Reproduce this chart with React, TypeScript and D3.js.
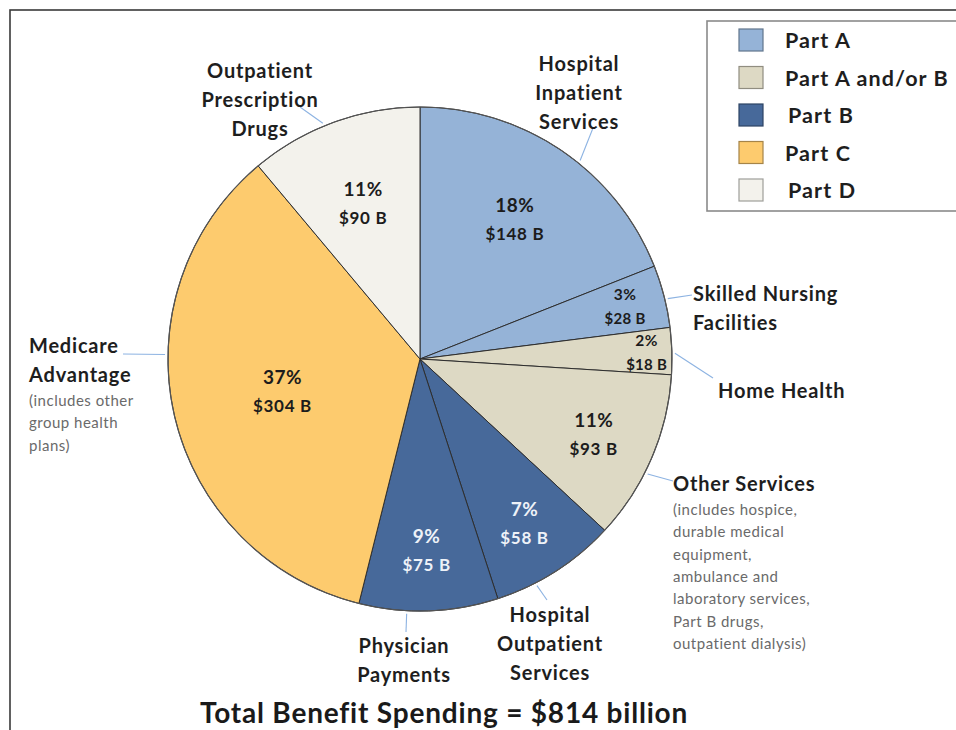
import React from "react";
import * as d3 from "d3";

// ---- data ----
const categories = [
  "Hospital Inpatient Services",
  "Skilled Nursing Facilities",
  "Home Health",
  "Other Services",
  "Hospital Outpatient Services",
  "Physician Payments",
  "Medicare Advantage",
  "Outpatient Prescription Drugs",
];
const categoryLines = [
  ["Hospital", "Inpatient", "Services"],
  ["Skilled Nursing", "Facilities"],
  ["Home Health"],
  ["Other Services"],
  ["Hospital", "Outpatient", "Services"],
  ["Physician", "Payments"],
  ["Medicare", "Advantage"],
  ["Outpatient", "Prescription", "Drugs"],
];
const categoryNotes = [
  [],
  [],
  [],
  [
    "(includes hospice,",
    "durable medical",
    "equipment,",
    "ambulance and",
    "laboratory services,",
    "Part B drugs,",
    "outpatient dialysis)",
  ],
  [],
  [],
  ["(includes other", "group health", "plans)"],
  [],
];
const categoryParts = [
  "Part A",
  "Part A",
  "Part A and/or B",
  "Part A and/or B",
  "Part B",
  "Part B",
  "Part C",
  "Part D",
];
const spendingBillions = [148, 28, 18, 93, 58, 75, 304, 90];
const percentLabels = ["18%", "3%", "2%", "11%", "7%", "9%", "37%", "11%"];
// share of the circle each slice occupies as drawn in the reference (percent)
const drawnShares = [19.0, 4.0, 3.0, 10.9, 8.1, 8.9, 35.0, 11.1];
const legendParts = ["Part A", "Part A and/or B", "Part B", "Part C", "Part D"];
const totalLabel = "Total Benefit Spending = $814 billion";

// ---- styles / layout ----
const partColors = ["#95b3d7", "#ddd9c4", "#47699a", "#fdcb6e", "#f3f2ec"];
const W = 956;
const H = 730;
const CX = 420;
const CY = 359;
const R = 252;
const FONT = "Lato, 'Open Sans', 'DejaVu Sans', sans-serif";

const labelRadius = [0.67, 0.84, 0.9, 0.75, 0.77, 0.76, 0.56, 0.66];
const smallLabel = [false, true, true, false, false, false, false, false];

type OuterLayout = {
  x: number;
  y: number;
  anchor: "start" | "middle" | "end";
  leaderDeg: number;
  end: [number, number];
  noteY?: number;
};
const outerLayout: OuterLayout[] = [
  { x: 579, y: 63, anchor: "middle", leaderDeg: 38.9, end: [593, 128] },
  { x: 693, y: 293, anchor: "start", leaderDeg: 76.3, end: [692, 295] },
  { x: 718, y: 390, anchor: "start", leaderDeg: 88.7, end: [713, 378] },
  { x: 673, y: 483, anchor: "start", leaderDeg: 116.8, end: [673, 481], noteY: 509 },
  { x: 550, y: 614, anchor: "middle", leaderDeg: 152.7, end: [547, 600] },
  { x: 404, y: 645, anchor: "middle", leaderDeg: 183, end: [406, 632] },
  { x: 29, y: 345, anchor: "start", leaderDeg: 271, end: [123, 354], noteY: 400 },
  { x: 260, y: 70, anchor: "middle", leaderDeg: 337.6, end: [300, 107] },
];

type Row = {
  category: string;
  part: string;
  value: number;
  share: number;
  pct: string;
  idx: number;
};

export default function App() {
  const rows: Row[] = categories.map((c, i) => ({
    category: c,
    part: categoryParts[i],
    value: spendingBillions[i],
    share: drawnShares[i],
    pct: percentLabels[i],
    idx: i,
  }));

  const color = d3.scaleOrdinal<string, string>().domain(legendParts).range(partColors);

  const pie = d3
    .pie<Row>()
    .sort(null)
    .value((d) => d.share)
    .startAngle(0)
    .endAngle(2 * Math.PI);
  const arcs = pie(rows);
  const arcGen = d3.arc<d3.PieArcDatum<Row>>().innerRadius(0).outerRadius(R);

  const polar = (angle: number, rad: number): [number, number] => [
    CX + rad * Math.sin(angle),
    CY - rad * Math.cos(angle),
  ];

  const legendY = d3.scalePoint<string>().domain(legendParts).range([40, 190]);

  return (
    <svg
      width={W}
      height={H}
      viewBox={`0 0 ${W} ${H}`}
      style={{ position: "absolute", left: 0, top: 0, background: "#fff" }}
      fontFamily={FONT}
    >
      {/* frame */}
      <rect x={10} y={10} width={1000} height={900} fill="#fff" stroke="#3a3a3a" strokeWidth={1.6} />

      {/* pie slices */}
      <g transform={`translate(${CX},${CY})`}>
        {arcs.map((a) => (
          <path
            key={a.data.category}
            d={arcGen(a) || ""}
            fill={color(a.data.part)}
            stroke="#2e2e2e"
            strokeWidth={1}
            strokeLinejoin="round"
          />
        ))}
      </g>
      <circle cx={CX} cy={CY} r={R} fill="none" stroke="#555" strokeWidth={1.2} />

      {/* slice value labels */}
      {arcs.map((a) => {
        const i = a.data.idx;
        const mid = (a.startAngle + a.endAngle) / 2;
        const [x, y] = polar(mid, R * labelRadius[i]);
        const small = smallLabel[i];
        const dark = a.data.part === "Part B";
        const fill = dark ? "#eef2f8" : "#1c1c1c";
        const gap = small ? 12 : 14.5;
        return (
          <g key={"lab" + i} fill={fill} fontWeight={700} textAnchor="middle" dominantBaseline="central">
            <text x={x} y={y - gap} fontSize={small ? 15.5 : 19} letterSpacing={0.5}>
              {a.data.pct}
            </text>
            <text x={x} y={y + gap} fontSize={small ? 15 : 17} letterSpacing={small ? 0.3 : 0.7}>
              {`$${a.data.value} B`}
            </text>
          </g>
        );
      })}

      {/* leader lines */}
      {arcs.map((a) => {
        const i = a.data.idx;
        const L = outerLayout[i];
        const [sx, sy] = polar((L.leaderDeg * Math.PI) / 180, R + 3);
        return (
          <line
            key={"ld" + i}
            x1={sx}
            y1={sy}
            x2={L.end[0]}
            y2={L.end[1]}
            stroke="#8db3e2"
            strokeWidth={1.1}
          />
        );
      })}

      {/* category labels */}
      {rows.map((d) => {
        const L = outerLayout[d.idx];
        return (
          <g key={"cat" + d.idx}>
            {categoryLines[d.idx].map((ln, k) => (
              <text
                key={k}
                x={L.x}
                y={L.y + k * 29}
                textAnchor={L.anchor}
                dominantBaseline="central"
                fontSize={20}
                letterSpacing={0.8}
                fontWeight={700}
                fill="#1e1e1e"
              >
                {ln}
              </text>
            ))}
            {categoryNotes[d.idx].map((ln, k) => (
              <text
                key={"n" + k}
                x={L.x}
                y={(L.noteY || 0) + k * 22.3}
                textAnchor={L.anchor}
                dominantBaseline="central"
                fontSize={15}
                letterSpacing={0.5}
                fill="#6a6a6a"
              >
                {ln}
              </text>
            ))}
          </g>
        );
      })}

      {/* legend */}
      <rect x={707} y={21} width={300} height={190} fill="#fff" stroke="#8a8a8a" strokeWidth={1.6} />
      {legendParts.map((p, i) => {
        const y = legendY(p) || 0;
        const c = color(p);
        return (
          <g key={p}>
            <rect
              x={739}
              y={y - 11}
              width={24}
              height={22}
              fill={c}
              stroke={d3.color(c)?.darker(1.2).formatHex()}
              strokeWidth={1.2}
            />
            <text
              x={i === 2 || i === 4 ? 788 : 785}
              y={y}
              dominantBaseline="central"
              fontSize={21.5}
              letterSpacing={1.1}
              fontWeight={700}
              fill="#1e1e1e"
            >
              {p}
            </text>
          </g>
        );
      })}

      {/* title */}
      <text
        x={444}
        y={712}
        textAnchor="middle"
        dominantBaseline="central"
        fontSize={28}
        letterSpacing={0.8}
        fontWeight={700}
        fill="#1a1a1a"
      >
        {totalLabel}
      </text>
    </svg>
  );
}
